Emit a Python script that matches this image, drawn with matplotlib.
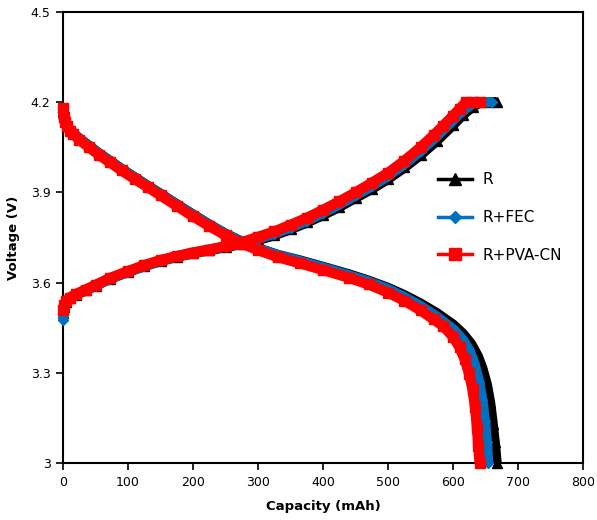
import matplotlib
matplotlib.use("Agg")
import matplotlib.pyplot as plt
from matplotlib.lines import Line2D

# ---------------- data ----------------
series_names = ["R", "R+FEC", "R+PVA-CN"]

# charge curves (capacity mAh, voltage V)
r_charge_cap = [0, 2, 5, 10, 20, 35, 50, 72, 100, 125, 150, 175, 200, 225, 250, 275, 300,
                325, 350, 375, 400, 425, 450, 475, 500, 525, 550, 575, 600, 615, 630, 642, 655, 667]
r_charge_v = [3.50, 3.52, 3.535, 3.548, 3.56, 3.575, 3.59, 3.613, 3.636, 3.655, 3.672, 3.686, 3.698,
              3.708, 3.718, 3.729, 3.742, 3.758, 3.778, 3.80, 3.825, 3.852, 3.882, 3.912, 3.945,
              3.983, 4.025, 4.072, 4.125, 4.158, 4.185, 4.20, 4.20, 4.20]

fec_charge_cap = [0, 2, 5, 10, 20, 35, 50, 72, 100, 125, 150, 175, 200, 225, 250, 275, 300,
                  325, 350, 375, 400, 425, 450, 475, 500, 525, 550, 575, 600, 615, 633, 645, 660]
fec_charge_v = [3.476, 3.52, 3.535, 3.548, 3.56, 3.575, 3.59, 3.613, 3.636, 3.656, 3.673, 3.687, 3.699,
                3.709, 3.72, 3.731, 3.746, 3.763, 3.783, 3.806, 3.832, 3.86, 3.89, 3.921, 3.955,
                3.994, 4.038, 4.087, 4.14, 4.172, 4.20, 4.20, 4.20]

pva_charge_cap = [0, 2, 5, 10, 20, 35, 50, 72, 100, 125, 150, 175, 200, 225, 250, 275, 300,
                  325, 350, 375, 400, 425, 450, 475, 500, 525, 550, 570, 585, 600, 610, 620, 630, 641]
pva_charge_v = [3.51, 3.525, 3.538, 3.55, 3.562, 3.577, 3.592, 3.615, 3.638, 3.658, 3.675, 3.688, 3.70,
                3.71, 3.721, 3.734, 3.752, 3.77, 3.792, 3.815, 3.842, 3.87, 3.90, 3.932, 3.965,
                4.005, 4.05, 4.09, 4.122, 4.155, 4.178, 4.20, 4.20, 4.20]

# discharge curves
r_dis_cap = [0, 1, 3, 6, 10, 15, 25, 40, 55, 72, 90, 110, 130, 150, 175, 200, 225, 250, 275, 300,
             330, 365, 400, 440, 470, 500, 525, 550, 575, 600, 615, 628, 638, 645, 652, 657, 661, 664, 667]
r_dis_v = [4.17, 4.15, 4.138, 4.124, 4.11, 4.098, 4.079, 4.055, 4.03, 4.005, 3.978, 3.95, 3.922, 3.895,
           3.86, 3.826, 3.793, 3.762, 3.736, 3.714, 3.692, 3.673, 3.652, 3.627, 3.606, 3.582, 3.558,
           3.53, 3.498, 3.46, 3.43, 3.395, 3.355, 3.315, 3.26, 3.2, 3.13, 3.07, 3.0]

fec_dis_cap = [0, 1, 3, 6, 10, 15, 25, 40, 55, 72, 90, 110, 130, 150, 175, 200, 225, 250, 275, 300,
               330, 365, 400, 440, 470, 500, 525, 550, 575, 600, 615, 625, 633, 640, 645, 649, 652, 654]
fec_dis_v = [4.17, 4.15, 4.137, 4.123, 4.109, 4.097, 4.078, 4.054, 4.029, 4.004, 3.977, 3.949, 3.921,
             3.894, 3.859, 3.825, 3.792, 3.761, 3.735, 3.713, 3.691, 3.671, 3.65, 3.624, 3.603, 3.578,
             3.552, 3.522, 3.487, 3.445, 3.41, 3.375, 3.33, 3.27, 3.21, 3.14, 3.07, 3.0]

pva_dis_cap = [0, 1, 3, 6, 10, 15, 25, 40, 55, 72, 90, 110, 130, 150, 175, 200, 225, 250, 275, 300,
               330, 365, 400, 440, 470, 500, 525, 550, 570, 585, 600, 610, 618, 625, 630, 634, 637, 639, 641]
pva_dis_v = [4.18, 4.15, 4.135, 4.12, 4.105, 4.095, 4.075, 4.05, 4.025, 4.0, 3.973, 3.945, 3.918, 3.89,
             3.855, 3.82, 3.788, 3.757, 3.73, 3.708, 3.685, 3.664, 3.642, 3.616, 3.594, 3.567, 3.54,
             3.508, 3.478, 3.455, 3.42, 3.385, 3.345, 3.295, 3.245, 3.185, 3.115, 3.055, 3.0]

x_ticks = [0, 100, 200, 300, 400, 500, 600, 700, 800]
y_ticks = [3.0, 3.3, 3.6, 3.9, 4.2, 4.5]
y_tick_labels = ["3", "3.3", "3.6", "3.9", "4.2", "4.5"]

# ---------------- styling ----------------
colors = {"R": "#000000", "R+FEC": "#0070C0", "R+PVA-CN": "#FF0000"}
markers = {"R": "^", "R+FEC": "D", "R+PVA-CN": "s"}
msizes = {"R": 7, "R+FEC": 5, "R+PVA-CN": 7}
band_lw = 7.5

fig = plt.figure(figsize=(5.97, 5.20), dpi=100)
ax = fig.add_axes([63 / 597, 1 - 463 / 520, 520 / 597, 451 / 520])

data = [
    ("R", r_charge_cap, r_charge_v, r_dis_cap, r_dis_v),
    ("R+FEC", fec_charge_cap, fec_charge_v, fec_dis_cap, fec_dis_v),
    ("R+PVA-CN", pva_charge_cap, pva_charge_v, pva_dis_cap, pva_dis_v),
]
for z, (name, cc, cv, dc, dv) in enumerate(data):
    c = colors[name]
    for xs, ys in ((cc, cv), (dc, dv)):
        ax.plot(xs, ys, color=c, lw=band_lw, solid_capstyle="butt", solid_joinstyle="round",
                marker=markers[name], ms=msizes[name], mec=c, mfc=c, zorder=2 + z, clip_on=False)

ax.set_xlim(0, 800)
ax.set_ylim(3.0, 4.5)
ax.set_xticks(x_ticks)
ax.set_yticks(y_ticks)
ax.set_yticklabels(y_tick_labels)
ax.tick_params(direction="out", length=5, width=1.2, labelsize=9, colors="black", pad=4)
for sp in ax.spines.values():
    sp.set_linewidth(1.5)
    sp.set_color("black")

ax.set_xlabel("Capacity (mAh)", fontsize=9.5, fontweight="bold", labelpad=8)
ax.set_ylabel("Voltage (V)", fontsize=9.5, fontweight="bold", labelpad=8)

handles = [Line2D([0], [0], color=colors[n], lw=2.5, marker=markers[n], ms=msizes[n] + 1,
                  mec=colors[n], mfc=colors[n]) for n in series_names]
ax.legend(handles, series_names, loc="upper left", bbox_to_anchor=((438 - 63) / 520, (463 - 172) / 451),
          frameon=False, fontsize=11, handlelength=2.2, handletextpad=0.7, labelspacing=1.5,
          borderpad=0, borderaxespad=0)

fig.savefig("out.png", dpi=100)
